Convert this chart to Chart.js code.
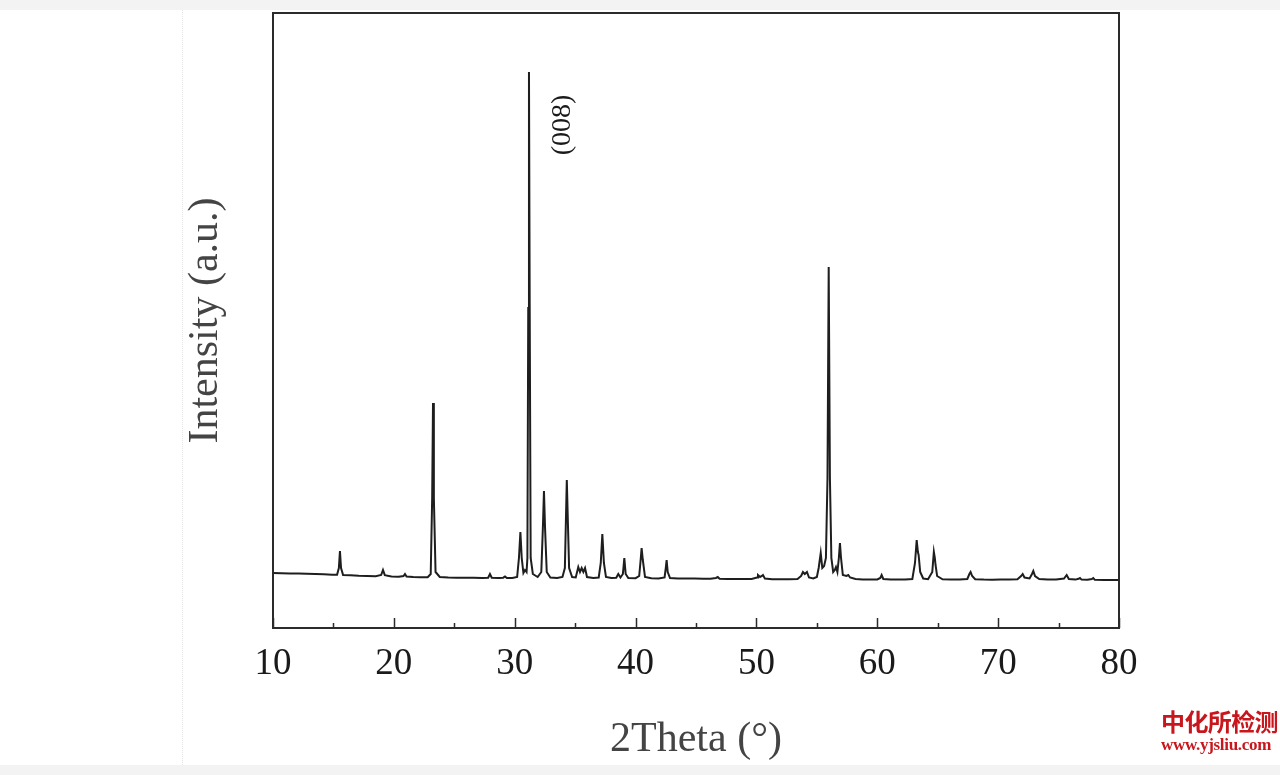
<!DOCTYPE html>
<html>
<head>
<meta charset="utf-8">
<title>XRD</title>
<script src="https://cdn.jsdelivr.net/npm/chart.js@4.4.1/dist/chart.umd.min.js"></script>
<style>
  html, body { margin: 0; padding: 0; background: #fff; }
  #page { position: relative; width: 1280px; height: 775px; overflow: hidden; background: #fff; }
  .strip { position: absolute; left: 0; width: 1280px; background: #f3f3f3; }
  #sep { position: absolute; left: 182px; top: 10px; height: 755px; border-left: 1px dotted #e4e4e4; }
  #chart { position: absolute; left: 0; top: 0; }
  #mark { position: absolute; left: 1161px; top: 705px; width: 119px; color: #c8161d; font-weight: bold; text-align: left; }
  #mark .cn { font-family: "Noto Sans CJK SC", sans-serif; font-size: 24px; line-height: 31px; letter-spacing: -0.6px; }
  #mark .url { font-family: "Liberation Serif", serif; font-size: 17px; line-height: 17px; letter-spacing: -0.3px; }
</style>
</head>
<body>
<div id="page">
  <div class="strip" style="top:0;height:10px"></div>
  <div class="strip" style="top:765px;height:10px"></div>
  <div id="sep"></div>
  <canvas id="chart" width="1280" height="775"></canvas>
  <div id="mark"><div class="cn">中化所检测</div><div class="url">www.yjsliu.com</div></div>
</div>
<script>
// 2θ (deg) and intensity (a.u.)
const twoTheta = [
  10.0, 10.7, 11.4, 12.1, 12.8, 13.5, 14.2, 14.9, 15.30, 15.45, 15.54, 15.63, 15.80,
  16.4, 17.1, 17.8, 18.5, 18.95, 19.10, 19.25, 19.8, 20.4, 20.80, 20.92, 21.05,
  21.6, 22.2, 22.8, 23.05, 23.17, 23.24, 23.31, 23.45, 23.8, 24.5, 25.2, 25.9,
  26.6, 27.3, 27.80, 27.95, 28.10, 28.7, 29.05, 29.20, 29.35, 29.8, 30.20, 30.35,
  30.47, 30.58, 30.72, 30.85, 30.98, 31.05, 31.12, 31.18, 31.24, 31.32, 31.50, 31.9,
  32.20, 32.33, 32.42, 32.51, 32.65, 32.95, 33.5, 33.95, 34.15, 34.24, 34.31, 34.39,
  34.50, 34.75, 35.05, 35.26, 35.40, 35.54, 35.68, 35.82, 35.98, 36.5, 36.95, 37.12,
  37.25, 37.38, 37.55, 38.0, 38.40, 38.57, 38.75, 38.95, 39.07, 39.18, 39.4, 40.0,
  40.30, 40.42, 40.50, 40.60, 40.78, 41.3, 41.9, 42.40, 42.50, 42.57, 42.66, 42.85,
  43.5, 44.2, 44.9, 45.6, 46.2, 46.65, 46.80, 46.95, 47.6, 48.3, 49.0, 49.6, 50.05,
  50.13, 50.30, 50.45, 50.54, 50.70, 51.3, 52.0, 52.7, 53.4, 53.70, 53.85, 54.00,
  54.18, 54.35, 54.7, 55.00, 55.15, 55.32, 55.45, 55.60, 55.75, 55.88, 55.98, 56.08,
  56.20, 56.35, 56.48, 56.58, 56.70, 56.82, 56.91, 57.00, 57.15, 57.45, 57.60, 57.75,
  58.2, 58.8, 59.4, 60.0, 60.25, 60.36, 60.50, 61.1, 61.7, 62.3, 62.9, 63.12, 63.26,
  63.36, 63.42, 63.55, 63.8, 64.2, 64.55, 64.68, 64.76, 64.82, 64.95, 65.4, 66.1,
  66.8, 67.45, 67.62, 67.72, 67.85, 68.1, 68.8, 69.5, 70.2, 70.9, 71.6, 71.90, 72.03,
  72.18, 72.6, 72.80, 72.91, 73.05, 73.4, 74.1, 74.8, 75.45, 75.67, 75.85, 76.4,
  76.65, 76.77, 76.9, 77.4, 77.75, 77.87, 78.0, 78.8, 79.5, 80.0
];
const intensity = [
  550, 548, 546, 545, 542, 540, 537, 533, 532, 600, 770, 600, 530,
  528, 522, 520, 518, 530, 580, 528, 515, 512, 520, 540, 515,
  510, 508, 507, 540, 1300, 2250, 1300, 560, 510, 505, 503, 502,
  502, 500, 503, 540, 502, 500, 503, 515, 500, 500, 510, 700,
  960, 700, 550, 580, 560, 700, 3200, 5560, 3200, 700, 540, 510,
  560, 1000, 1370, 1000, 560, 505, 500, 510, 600, 1100, 1480, 1100,
  600, 510, 505, 610, 560, 600, 560, 600, 510, 500, 505, 650,
  940, 650, 510, 500, 502, 540, 505, 540, 700, 540, 500, 498,
  520, 680, 800, 680, 510, 497, 495, 505, 600, 680, 560, 500,
  496, 495, 494, 493, 492, 500, 510, 492, 490, 490, 489, 490, 505,
  530, 510, 520, 530, 495, 488, 487, 488, 490, 520, 560, 540,
  560, 505, 495, 510, 600, 750, 600, 620, 700, 1500, 3610, 1500,
  700, 560, 580, 610, 560, 700, 850, 700, 530, 520, 530, 505,
  490, 485, 485, 486, 500, 530, 490, 485, 484, 485, 490, 650, 880,
  760, 730, 560, 495, 488, 560, 760, 700, 630, 520, 487, 485,
  484, 490, 540, 560, 520, 488, 484, 483, 484, 485, 488, 520, 540,
  505, 495, 540, 570, 520, 490, 484, 484, 495, 530, 490, 484,
  492, 500, 484, 482, 490, 500, 482, 480, 480, 480
];

const xMin = 10;
const xMax = 80;
const yMin = 0;
const yMax = 6150;
const xTitle = '2Theta (°)';
const yTitle = 'Intensity (a.u.)';
const peakLabel = '(008)';
const peakLabelAt = [34.0, 5030];

const points = twoTheta.map((t, i) => ({ x: t, y: intensity[i] }));

// frame round the plot area
const framePlugin = {
  id: 'frame',
  afterDatasetsDraw(chart) {
    const { ctx, chartArea: a } = chart;
    ctx.save();
    ctx.strokeStyle = '#2b2b2b';
    ctx.lineWidth = 2;
    ctx.strokeRect(a.left, a.top, a.right - a.left, a.bottom - a.top);
    ctx.restore();
  }
};

// inward ticks on the bottom axis (long on tens, short on fives)
const inTicksPlugin = {
  id: 'inTicks',
  afterDatasetsDraw(chart) {
    const { ctx, chartArea: a } = chart;
    const xs = chart.scales.x;
    ctx.save();
    ctx.strokeStyle = '#2b2b2b';
    ctx.lineWidth = 1.5;
    xs.ticks.forEach(t => {
      const px = Math.round(xs.getPixelForValue(t.value)) + 0.5;
      const len = t.value % 10 === 0 ? 10 : 5;
      ctx.beginPath();
      ctx.moveTo(px, a.bottom);
      ctx.lineTo(px, a.bottom - len);
      ctx.stroke();
    });
    ctx.restore();
  }
};

// rotated (008) label next to the main reflection
const peakLabelPlugin = {
  id: 'peakLabel',
  afterDatasetsDraw(chart) {
    const { ctx } = chart;
    const px = chart.scales.x.getPixelForValue(peakLabelAt[0]);
    const py = chart.scales.y.getPixelForValue(peakLabelAt[1]);
    ctx.save();
    ctx.translate(px, py);
    ctx.rotate(-Math.PI / 2);
    ctx.fillStyle = '#1a1a1a';
    ctx.font = '28px "Liberation Serif", serif';
    ctx.textAlign = 'center';
    ctx.textBaseline = 'middle';
    ctx.fillText(peakLabel, 0, 0);
    ctx.restore();
  }
};

new Chart(document.getElementById('chart'), {
  type: 'line',
  data: {
    datasets: [{
      data: points,
      borderColor: '#1e1e1e',
      borderWidth: 2,
      pointRadius: 0,
      tension: 0,
      fill: false
    }]
  },
  options: {
    responsive: false,
    animation: false,
    devicePixelRatio: 1,
    layout: { padding: { left: 0, top: 13, right: 161, bottom: 0 } },
    plugins: { legend: { display: false }, tooltip: { enabled: false } },
    scales: {
      x: {
        type: 'linear',
        min: xMin,
        max: xMax,
        grid: { display: false },
        border: { display: false },
        ticks: {
          stepSize: 5,
          autoSkip: false,
          maxRotation: 0,
          padding: 6,
          color: '#1a1a1a',
          font: { family: '"Liberation Serif", serif', size: 37 },
          callback: v => (v % 10 === 0 ? String(v) : '')
        },
        title: {
          display: true,
          text: xTitle,
          color: '#444',
          font: { family: '"Liberation Serif", serif', size: 42 },
          padding: { top: 0, bottom: 10 }
        },
        afterFit(scale) { scale.height = 147; }
      },
      y: {
        min: yMin,
        max: yMax,
        grid: { display: false },
        border: { display: false },
        ticks: { display: false },
        title: {
          display: true,
          text: yTitle,
          color: '#444',
          font: { family: '"Liberation Serif", serif', size: 42 },
          padding: { top: 181, bottom: 0 }
        },
        afterFit(scale) { scale.width = 273; }
      }
    }
  },
  plugins: [framePlugin, inTicksPlugin, peakLabelPlugin]
});
</script>
</body>
</html>
